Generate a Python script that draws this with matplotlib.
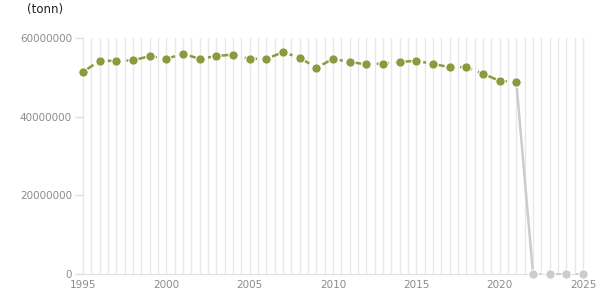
import numpy as np
import matplotlib.pyplot as plt

# tonn per år
years = list(range(1995, 2022))
values = [51.4, 54.2, 54.2, 54.3, 55.4, 54.7, 56.0, 54.7, 55.4, 55.8,
          54.7, 54.7, 56.4, 55.0, 52.4, 54.7, 53.9, 53.3, 53.5, 53.9,
          54.2, 53.4, 52.6, 52.6, 50.9, 49.1, 48.8]
values = [v * 1e6 for v in values]

proj_years = [2022, 2023, 2024, 2025]
proj_values = [0, 0, 0, 0]

green = '#8a9a3e'
grey = '#cccccc'

fig = plt.figure(figsize=(6.15, 3.05), dpi=100)
ax = fig.add_axes([83 / 615, 1 - 274 / 305, 500 / 615, 236 / 305])

for x in np.arange(1995, 2025.01, 0.5):
    ax.axvline(x, color='#e8e8e8', lw=1, zorder=0)

ax.plot(years, values, color=green, lw=1.8, dashes=[5, 2.5, 1.2, 2.5],
        marker='o', ms=6.8, mec='white', mew=0.8, zorder=3)
ax.plot([years[-1], proj_years[0]], [values[-1], proj_values[0]],
        color=grey, lw=1.8, zorder=2)
ax.plot(proj_years, proj_values, color=grey, lw=1.4, dashes=[4, 3, 1, 3],
        marker='o', ms=6.8, mec='white', mew=0.8, zorder=3)

ax.set_xlim(1995, 2025)
ax.set_ylim(0, 60000000)
ax.set_xticks([1995, 2000, 2005, 2010, 2015, 2020, 2025])
ax.set_yticks([0, 20000000, 40000000, 60000000])
ax.set_yticklabels(['0', '20000000', '40000000', '60000000'])
for s in ['top', 'right', 'left']:
    ax.spines[s].set_visible(False)
ax.spines['bottom'].set_color('#e0e0e0')
ax.tick_params(axis='y', colors='#e0e0e0', labelcolor='#8c8c8c', labelsize=7.5,
               length=6, width=1, pad=2)
ax.tick_params(axis='x', colors='#e0e0e0', labelcolor='#8c8c8c', labelsize=7.5,
               length=0, pad=4)
for line in ax.lines:
    line.set_clip_on(False)

fig.text(27 / 615, 1 - 9 / 305, '(tonn)', fontsize=8.5, color='#222222', va='center')

fig.savefig('out.png')
